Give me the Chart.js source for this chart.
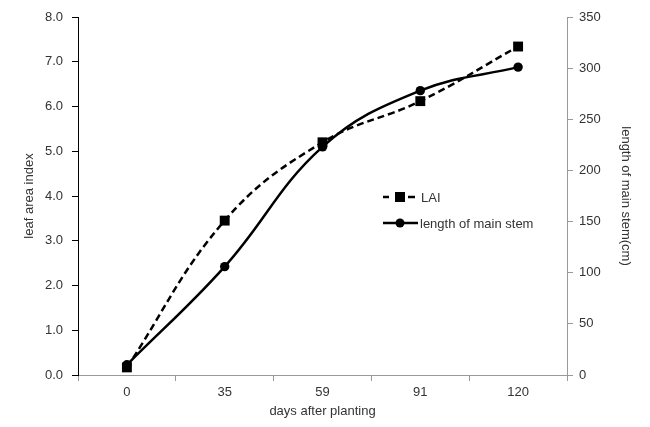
<!DOCTYPE html>
<html>
<head>
<meta charset="utf-8">
<script src="https://cdn.jsdelivr.net/npm/chart.js@4"></script>
<style>
  html, body { margin: 0; padding: 0; background: #fff; }
  #wrap { width: 650px; height: 427px; }
</style>
</head>
<body>
<div id="wrap"><canvas id="chart"></canvas></div>
<script>
const days = ["0", "35", "59", "91", "120"];
const lai = [0.17, 3.45, 5.2, 6.12, 7.34];
const stemLength = [10, 106, 223, 278, 301];

const FONT = "'Liberation Sans', Arial, sans-serif";
const TEXT = "#333";

// legend drawn inside the plot, like the original
const insideLegend = {
  id: "insideLegend",
  afterDraw(chart) {
    const ctx = chart.ctx;
    ctx.save();
    ctx.strokeStyle = "#000";
    ctx.fillStyle = "#000";
    ctx.lineWidth = 2.5;

    // LAI: dash - square - dash
    let y = 197;
    ctx.beginPath();
    ctx.moveTo(383, y); ctx.lineTo(389, y);
    ctx.moveTo(408, y); ctx.lineTo(415, y);
    ctx.stroke();
    ctx.fillRect(395, y - 5, 10, 10);

    // stem: solid line with circle
    let y2 = 223;
    ctx.beginPath();
    ctx.moveTo(383, y2); ctx.lineTo(418, y2);
    ctx.stroke();
    ctx.beginPath();
    ctx.arc(400, y2, 4.5, 0, Math.PI * 2);
    ctx.fill();

    ctx.fillStyle = TEXT;
    ctx.font = "13px " + FONT;
    ctx.textBaseline = "middle";
    ctx.fillText("LAI", 421, y + 1);
    ctx.fillText("length of main stem", 420, y2 + 1);
    ctx.restore();
  },
};

new Chart(document.getElementById("chart"), {
  type: "line",
  data: {
    labels: days,
    datasets: [
      {
        label: "LAI",
        data: lai,
        yAxisID: "y",
        borderColor: "#000",
        backgroundColor: "#000",
        borderWidth: 2.5,
        borderDash: [7, 4],
        tension: 0.4,
        pointStyle: "rect",
        pointRadius: 7,
        pointBorderWidth: 0,
      },
      {
        label: "length of main stem",
        data: stemLength,
        yAxisID: "y2",
        borderColor: "#000",
        backgroundColor: "#000",
        borderWidth: 2.5,
        tension: 0.4,
        pointStyle: "circle",
        pointRadius: 4.7,
        pointBorderWidth: 0,
      },
    ],
  },
  options: {
    responsive: true,
    maintainAspectRatio: false,
    animation: false,
    layout: { padding: { top: 17 } },
    plugins: {
      legend: { display: false },
      tooltip: { enabled: false },
    },
    scales: {
      x: {
        offset: true,
        grid: { offset: true, drawOnChartArea: false, tickLength: 6, color: "#999" },
        border: { color: "#999" },
        ticks: { color: TEXT, font: { family: FONT, size: 13 }, padding: 4 },
        title: { display: true, text: "days after planting", color: TEXT, font: { family: FONT, size: 13 }, padding: { top: 0, bottom: 8 } },
        afterFit(s) { s.height = 52; },
      },
      y: {
        position: "left",
        min: 0,
        max: 8,
        grid: { drawOnChartArea: false, tickLength: 6, color: "#000" },
        border: { color: "#000" },
        ticks: {
          stepSize: 1,
          color: TEXT,
          font: { family: FONT, size: 13 },
          padding: 9,
          callback: (v) => v.toFixed(1),
        },
        title: { display: true, text: "leaf area index", color: TEXT, font: { family: FONT, size: 13 }, padding: { top: 22, bottom: 0 } },
        afterFit(s) { s.width = 78; },
      },
      y2: {
        position: "right",
        min: 0,
        max: 350,
        grid: { drawOnChartArea: false, tickLength: 6, color: "#999" },
        border: { color: "#999" },
        ticks: { stepSize: 50, color: TEXT, font: { family: FONT, size: 13 }, padding: 6 },
        title: { display: true, text: "length of main stem(cm)", color: TEXT, font: { family: FONT, size: 13 }, padding: { top: 17, bottom: 0 } },
        afterFit(s) { s.width = 83; },
      },
    },
  },
  plugins: [insideLegend],
});
</script>
</body>
</html>
